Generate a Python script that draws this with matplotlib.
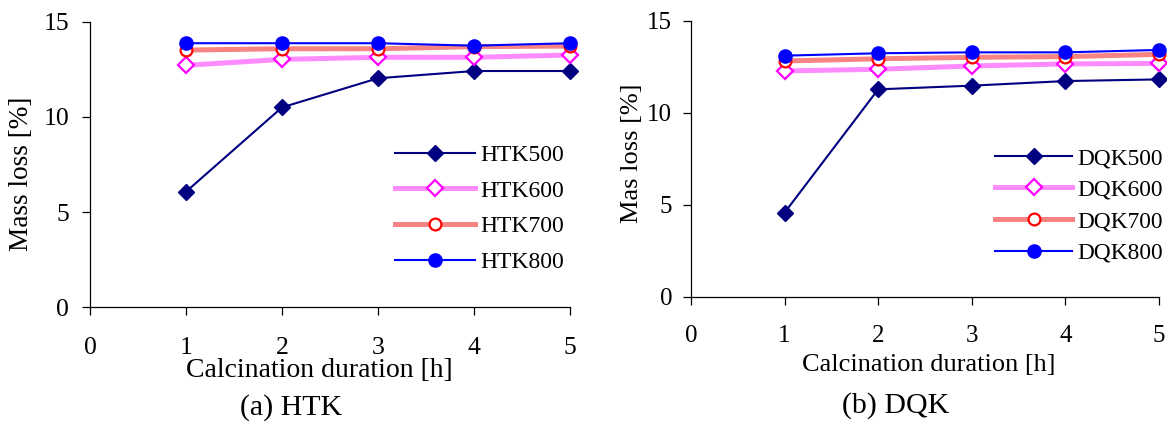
import numpy as np
import matplotlib
matplotlib.use('Agg')
import matplotlib.pyplot as plt

plt.rcParams['font.family'] = 'Liberation Serif'

# calcination duration [h]
hours = [1, 2, 3, 4, 5]

# mass loss [%] - HTK samples
htk500 = [6.07, 10.5, 12.03, 12.41, 12.41]
htk600 = [12.71, 13.02, 13.13, 13.13, 13.25]
htk700 = [13.51, 13.58, 13.58, 13.69, 13.72]
htk800 = [13.87, 13.87, 13.87, 13.74, 13.87]

# mass loss [%] - DQK samples
dqk500 = [4.57, 11.27, 11.47, 11.72, 11.81]
dqk600 = [12.27, 12.36, 12.54, 12.65, 12.68]
dqk700 = [12.81, 12.93, 13.01, 13.05, 13.17]
dqk800 = [13.10, 13.23, 13.28, 13.28, 13.41]

W, H = 1167, 421
fig = plt.figure(figsize=(W / 100, H / 100), dpi=100)

def px_axes(x0, x1, ytop, ybot):
    return fig.add_axes([x0 / W, 1 - ybot / H, (x1 - x0) / W, (ybot - ytop) / H])

styles = [
    dict(color='#000080', lw=1.5, marker='D', ms=8, mfc='#000080', mec='#000080'),
    dict(color='#ff8cff', lw=3.6, marker='D', ms=8, mfc='white', mec='#ff00ff', mew=1.6),
    dict(color='#f78383', lw=3.6, marker='o', ms=8.5, mfc='white', mec='#ff0000', mew=1.6),
    dict(color='#0000ff', lw=1.5, marker='o', ms=9.5, mfc='#0000ff', mec='#0000ff'),
]

def draw(ax, series, names, tick_fs, xpad, ypad, leg_anchor, hlen, lspace, leg_fs):
    for ys, nm, st in zip(series, names, styles):
        ax.plot(hours, ys, label=nm, clip_on=False, zorder=3, **st)
    ax.set_xlim(0, 5)
    ax.set_ylim(0, 15)
    ax.set_xticks(range(6))
    ax.set_yticks([0, 5, 10, 15])
    for s in ['top', 'right']:
        ax.spines[s].set_visible(False)
    for s in ['left', 'bottom']:
        ax.spines[s].set_linewidth(0.9)
    ax.tick_params(axis='x', direction='out', length=6, width=0.9, pad=xpad, labelsize=tick_fs)
    ax.tick_params(axis='y', direction='out', length=6, width=0.9, pad=ypad, labelsize=tick_fs)
    ax.legend(loc='upper left', bbox_to_anchor=leg_anchor, frameon=False, fontsize=leg_fs,
              handlelength=hlen, handletextpad=0.22, labelspacing=lspace, borderaxespad=0,
              borderpad=0)

# (a) HTK
ax1 = px_axes(90, 570, 21.7, 307.3)
draw(ax1, [htk500, htk600, htk700, htk800], ['HTK500', 'HTK600', 'HTK700', 'HTK800'],
     18.5, 15.5, 9, (0.6354, 0.5707), 3.4, 0.6, 17)
ax1.set_xlabel('Calcination duration [h]', fontsize=20, va='center')
ax1.xaxis.set_label_coords(0.478, -0.223)
ax1.set_ylabel('Mass loss [%]', fontsize=19.6, va='center')
ax1.yaxis.set_label_coords(-0.1417, 0.4667)

# (b) DQK
ax2 = px_axes(691, 1159, 20.7, 296.7)
draw(ax2, [dqk500, dqk600, dqk700, dqk800], ['DQK500', 'DQK600', 'DQK700', 'DQK800'],
     18, 14.7, 7.5, (0.6496, 0.5399), 3.3, 0.44, 16.8)
ax2.set_xlabel('Calcination duration [h]', fontsize=19, va='center')
ax2.xaxis.set_label_coords(0.5075, -0.2475)
ax2.set_ylabel('Mas loss [%]', fontsize=19, va='center')
ax2.yaxis.set_label_coords(-0.126, 0.519)

fig.text(291 / W, 1 - 408 / H, '(a) HTK', ha='center', va='center', fontsize=21.5)
fig.text(895.5 / W, 1 - 406 / H, '(b) DQK', ha='center', va='center', fontsize=21.5)

fig.savefig('out.png', dpi=100)
